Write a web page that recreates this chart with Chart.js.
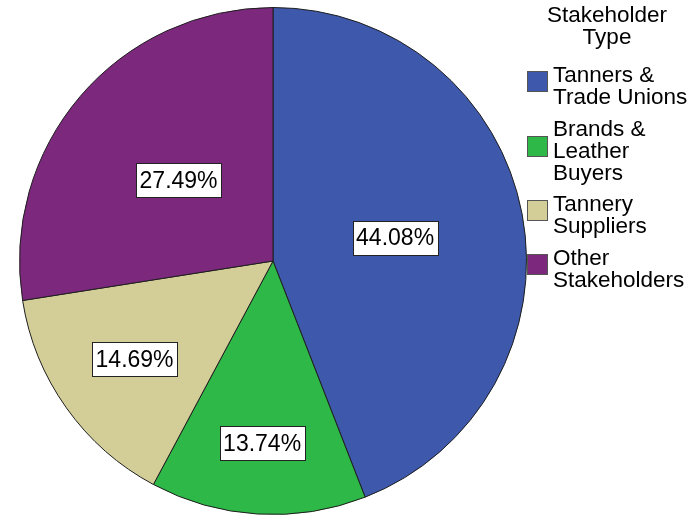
<!DOCTYPE html>
<html>
<head>
<meta charset="utf-8">
<script src="https://cdn.jsdelivr.net/npm/chart.js@4.4.1/dist/chart.umd.min.js"></script>
<style>
  html, body { margin: 0; padding: 0; background: #fff; }
  #pie { display: block; }
</style>
</head>
<body>
<canvas id="pie" width="699" height="515"></canvas>
<script>
// Data
const legendTitle = ['Stakeholder', 'Type'];
const categories = [
  ['Tanners &', 'Trade Unions'],
  ['Brands &', 'Leather', 'Buyers'],
  ['Tannery', 'Suppliers'],
  ['Other', 'Stakeholders']
];
const shares = [44.08, 13.74, 14.69, 27.49];
const sliceColors = ['#3E58AC', '#2EB848', '#D3CE97', '#7C287D'];

const LABEL_FONT = '23px "Liberation Sans", Arial, sans-serif';
const LEGEND_FONT = '22.5px "Liberation Sans", Arial, sans-serif';

// Percentage boxes inside the slices
const sliceLabels = {
  id: 'sliceLabels',
  afterDatasetsDraw(chart, args, opts) {
    const ctx = chart.ctx;
    const meta = chart.getDatasetMeta(0);
    ctx.save();
    ctx.font = LABEL_FONT;
    ctx.textAlign = 'center';
    ctx.textBaseline = 'middle';
    meta.data.forEach((arc, i) => {
      const p = arc.getProps(['x', 'y', 'startAngle', 'endAngle', 'outerRadius'], true);
      const mid = (p.startAngle + p.endAngle) / 2;
      const r = p.outerRadius * opts.radius[i];
      const cx = p.x + Math.cos(mid) * r;
      const cy = p.y + Math.sin(mid) * r;
      const txt = shares[i].toFixed(2) + '%';
      const w = Math.round(ctx.measureText(txt).width + 7);
      const h = 34;
      const x0 = Math.round(cx - w / 2) + 0.5;
      const y0 = Math.round(cy - h / 2) + 0.5;
      ctx.fillStyle = '#fff';
      ctx.fillRect(x0, y0, w, h);
      ctx.strokeStyle = '#222';
      ctx.lineWidth = 1;
      ctx.strokeRect(x0, y0, w, h);
      ctx.fillStyle = '#000';
      ctx.fillText(txt, cx, cy + 1);
    });
    ctx.restore();
  }
};

// Multi-line legend on the right
const sideLegend = {
  id: 'sideLegend',
  afterDraw(chart, args, opts) {
    const ctx = chart.ctx;
    ctx.save();
    ctx.font = LEGEND_FONT;
    ctx.fillStyle = '#000';
    ctx.textBaseline = 'alphabetic';
    ctx.textAlign = 'center';
    legendTitle.forEach((line, j) => {
      ctx.fillText(line, opts.titleX, opts.titleY + j * opts.lineHeight);
    });
    ctx.textAlign = 'left';
    let base = opts.firstBaseline;
    categories.forEach((lines, i) => {
      const first = base;
      lines.forEach(line => {
        ctx.fillStyle = '#000';
        ctx.fillText(line, opts.textX, base);
        base += opts.lineHeight;
      });
      const last = base - opts.lineHeight;
      const boxCy = (first + last) / 2 - 11.5;
      ctx.fillStyle = sliceColors[i];
      ctx.fillRect(opts.boxX, Math.round(boxCy - opts.box / 2), opts.box, opts.box);
      ctx.strokeStyle = '#555';
      ctx.lineWidth = 1;
      ctx.strokeRect(opts.boxX + 0.5, Math.round(boxCy - opts.box / 2) + 0.5, opts.box - 1, opts.box - 1);
      base += opts.gap;
    });
    ctx.restore();
  }
};

new Chart(document.getElementById('pie'), {
  type: 'pie',
  data: {
    labels: categories.map(c => c.join(' ')),
    datasets: [{
      data: shares,
      backgroundColor: sliceColors,
      borderColor: '#1e1e1e',
      borderWidth: 1
    }]
  },
  options: {
    responsive: false,
    animation: false,
    events: [],
    layout: { padding: { left: 19, right: 172, top: 7, bottom: 0 } },
    plugins: {
      legend: { display: false },
      tooltip: { enabled: false },
      sliceLabels: { radius: [0.49, 0.72, 0.67, 0.49] },
      sideLegend: {
        titleX: 607, titleY: 22, lineHeight: 22, firstBaseline: 82,
        gap: 9.5, textX: 553, boxX: 527, box: 21
      }
    }
  },
  plugins: [sliceLabels, sideLegend]
});
</script>
</body>
</html>
